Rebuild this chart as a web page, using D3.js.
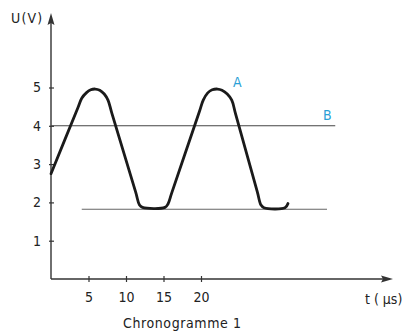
<!DOCTYPE html>
<html>
<head>
<meta charset="utf-8">
<script src="https://cdn.jsdelivr.net/npm/d3@7"></script>
<style>
  body { margin: 0; background: #fff; }
  text { font-family: "DejaVu Sans Condensed", "DejaVu Sans", sans-serif; fill: #222; }
</style>
</head>
<body>
<div id="chart"></div>
<script>
// waveform A (t in µs, U in volts)
const waveT = [0, 3.6, 4.1, 4.7, 5.3, 5.9, 6.5, 7.1, 7.6, 8.1, 11.3, 11.8, 12.2, 15.2, 15.6, 16.1,
  19.8, 20.3, 20.9, 21.5, 22.2, 22.8, 23.5, 24.1, 24.6, 27.5, 28.0, 28.4, 31.2, 31.6];
const waveU = [2.75, 4.48, 4.72, 4.86, 4.94, 4.96, 4.93, 4.83, 4.67, 4.34, 2.26, 1.93, 1.87, 1.87, 1.96, 2.25,
  4.38, 4.67, 4.86, 4.94, 4.96, 4.93, 4.83, 4.67, 4.32, 2.28, 1.93, 1.86, 1.86, 1.97];

// level B and the low reference line
const levelB = { t0: 0, t1: 37.9, u: 4 };
const levelLow = { t0: 4.1, t1: 36.8, u: 1.82 };

const xTicks = [5, 10, 15, 20];
const yTicks = [1, 2, 3, 4, 5];

const width = 407, height = 333;

const svg = d3.select("#chart").append("svg")
  .attr("width", width)
  .attr("height", height);

const x = d3.scaleLinear().domain([0, 45]).range([51, 388.5]);
const y = d3.scaleLinear().domain([0, 7]).range([279, 10.9]);

// axes
const xAxis = d3.axisBottom(x).tickValues(xTicks).tickSize(3).tickPadding(10).tickFormat(d3.format("d"));
const yAxis = d3.axisLeft(y).tickValues(yTicks).tickSize(3).tickPadding(7).tickFormat(d3.format("d"));

const gx = svg.append("g").attr("transform", `translate(0,${y(0)})`).call(xAxis);
const gy = svg.append("g").attr("transform", `translate(${x(0)},0)`).call(yAxis);

[gx, gy].forEach(g => {
  g.select(".domain").remove();
  g.selectAll(".tick text").style("font-size", "14px").attr("fill", "#222");
  g.selectAll(".tick line").attr("stroke", "#333").attr("stroke-width", 1.2);
});
gx.selectAll(".tick line").attr("y1", -3).attr("y2", 3);
gy.selectAll(".tick line").attr("x1", -2).attr("x2", 3);

// axis lines with arrows
svg.append("line")
  .attr("x1", x(0)).attr("x2", 386)
  .attr("y1", y(0)).attr("y2", y(0))
  .attr("stroke", "#333").attr("stroke-width", 1.4);
svg.append("path")
  .attr("d", `M393,${y(0)} L381,${y(0) - 3.5} L383,${y(0)} L381,${y(0) + 3.5} Z`)
  .attr("fill", "#333");

svg.append("line")
  .attr("x1", x(0)).attr("x2", x(0))
  .attr("y1", y(0)).attr("y2", 20)
  .attr("stroke", "#333").attr("stroke-width", 1.4);
svg.append("path")
  .attr("d", `M${x(0)},13 L${x(0) - 3.5},25 L${x(0)},23 L${x(0) + 3.5},25 Z`)
  .attr("fill", "#333");

// horizontal reference lines
svg.append("line")
  .attr("x1", x(levelB.t0)).attr("x2", x(levelB.t1))
  .attr("y1", y(levelB.u)).attr("y2", y(levelB.u))
  .attr("stroke", "#444").attr("stroke-width", 1.1);

svg.append("line")
  .attr("x1", x(levelLow.t0)).attr("x2", x(levelLow.t1))
  .attr("y1", y(levelLow.u)).attr("y2", y(levelLow.u))
  .attr("stroke", "#666").attr("stroke-width", 1.1);

// waveform
const wave = waveT.map((t, i) => ({ t: t, u: waveU[i] }));
const line = d3.line()
  .x(d => x(d.t))
  .y(d => y(d.u))
  .curve(d3.curveCatmullRom.alpha(0.5));

svg.append("path")
  .datum(wave)
  .attr("d", line)
  .attr("fill", "none")
  .attr("stroke", "#1a1a1a")
  .attr("stroke-width", 2.8)
  .attr("stroke-linejoin", "round")
  .attr("stroke-linecap", "round");

// labels
svg.append("text").attr("x", 11).attr("y", 23).style("font-size", "14px")
  .style("letter-spacing", "1.2px").text("U(V)");
svg.append("text").attr("x", 365).attr("y", 304).style("font-size", "14px").text("t ( µs)");
svg.append("text").attr("x", 123).attr("y", 328).style("font-size", "14px")
  .style("letter-spacing", "0.6px").text("Chronogramme 1");

svg.append("text").attr("x", 233).attr("y", 87).style("font-size", "14px")
  .style("fill", "#2a9fd6").text("A");
svg.append("text").attr("x", 323).attr("y", 120).style("font-size", "14px")
  .style("fill", "#2a9fd6").text("B");
</script>
</body>
</html>
